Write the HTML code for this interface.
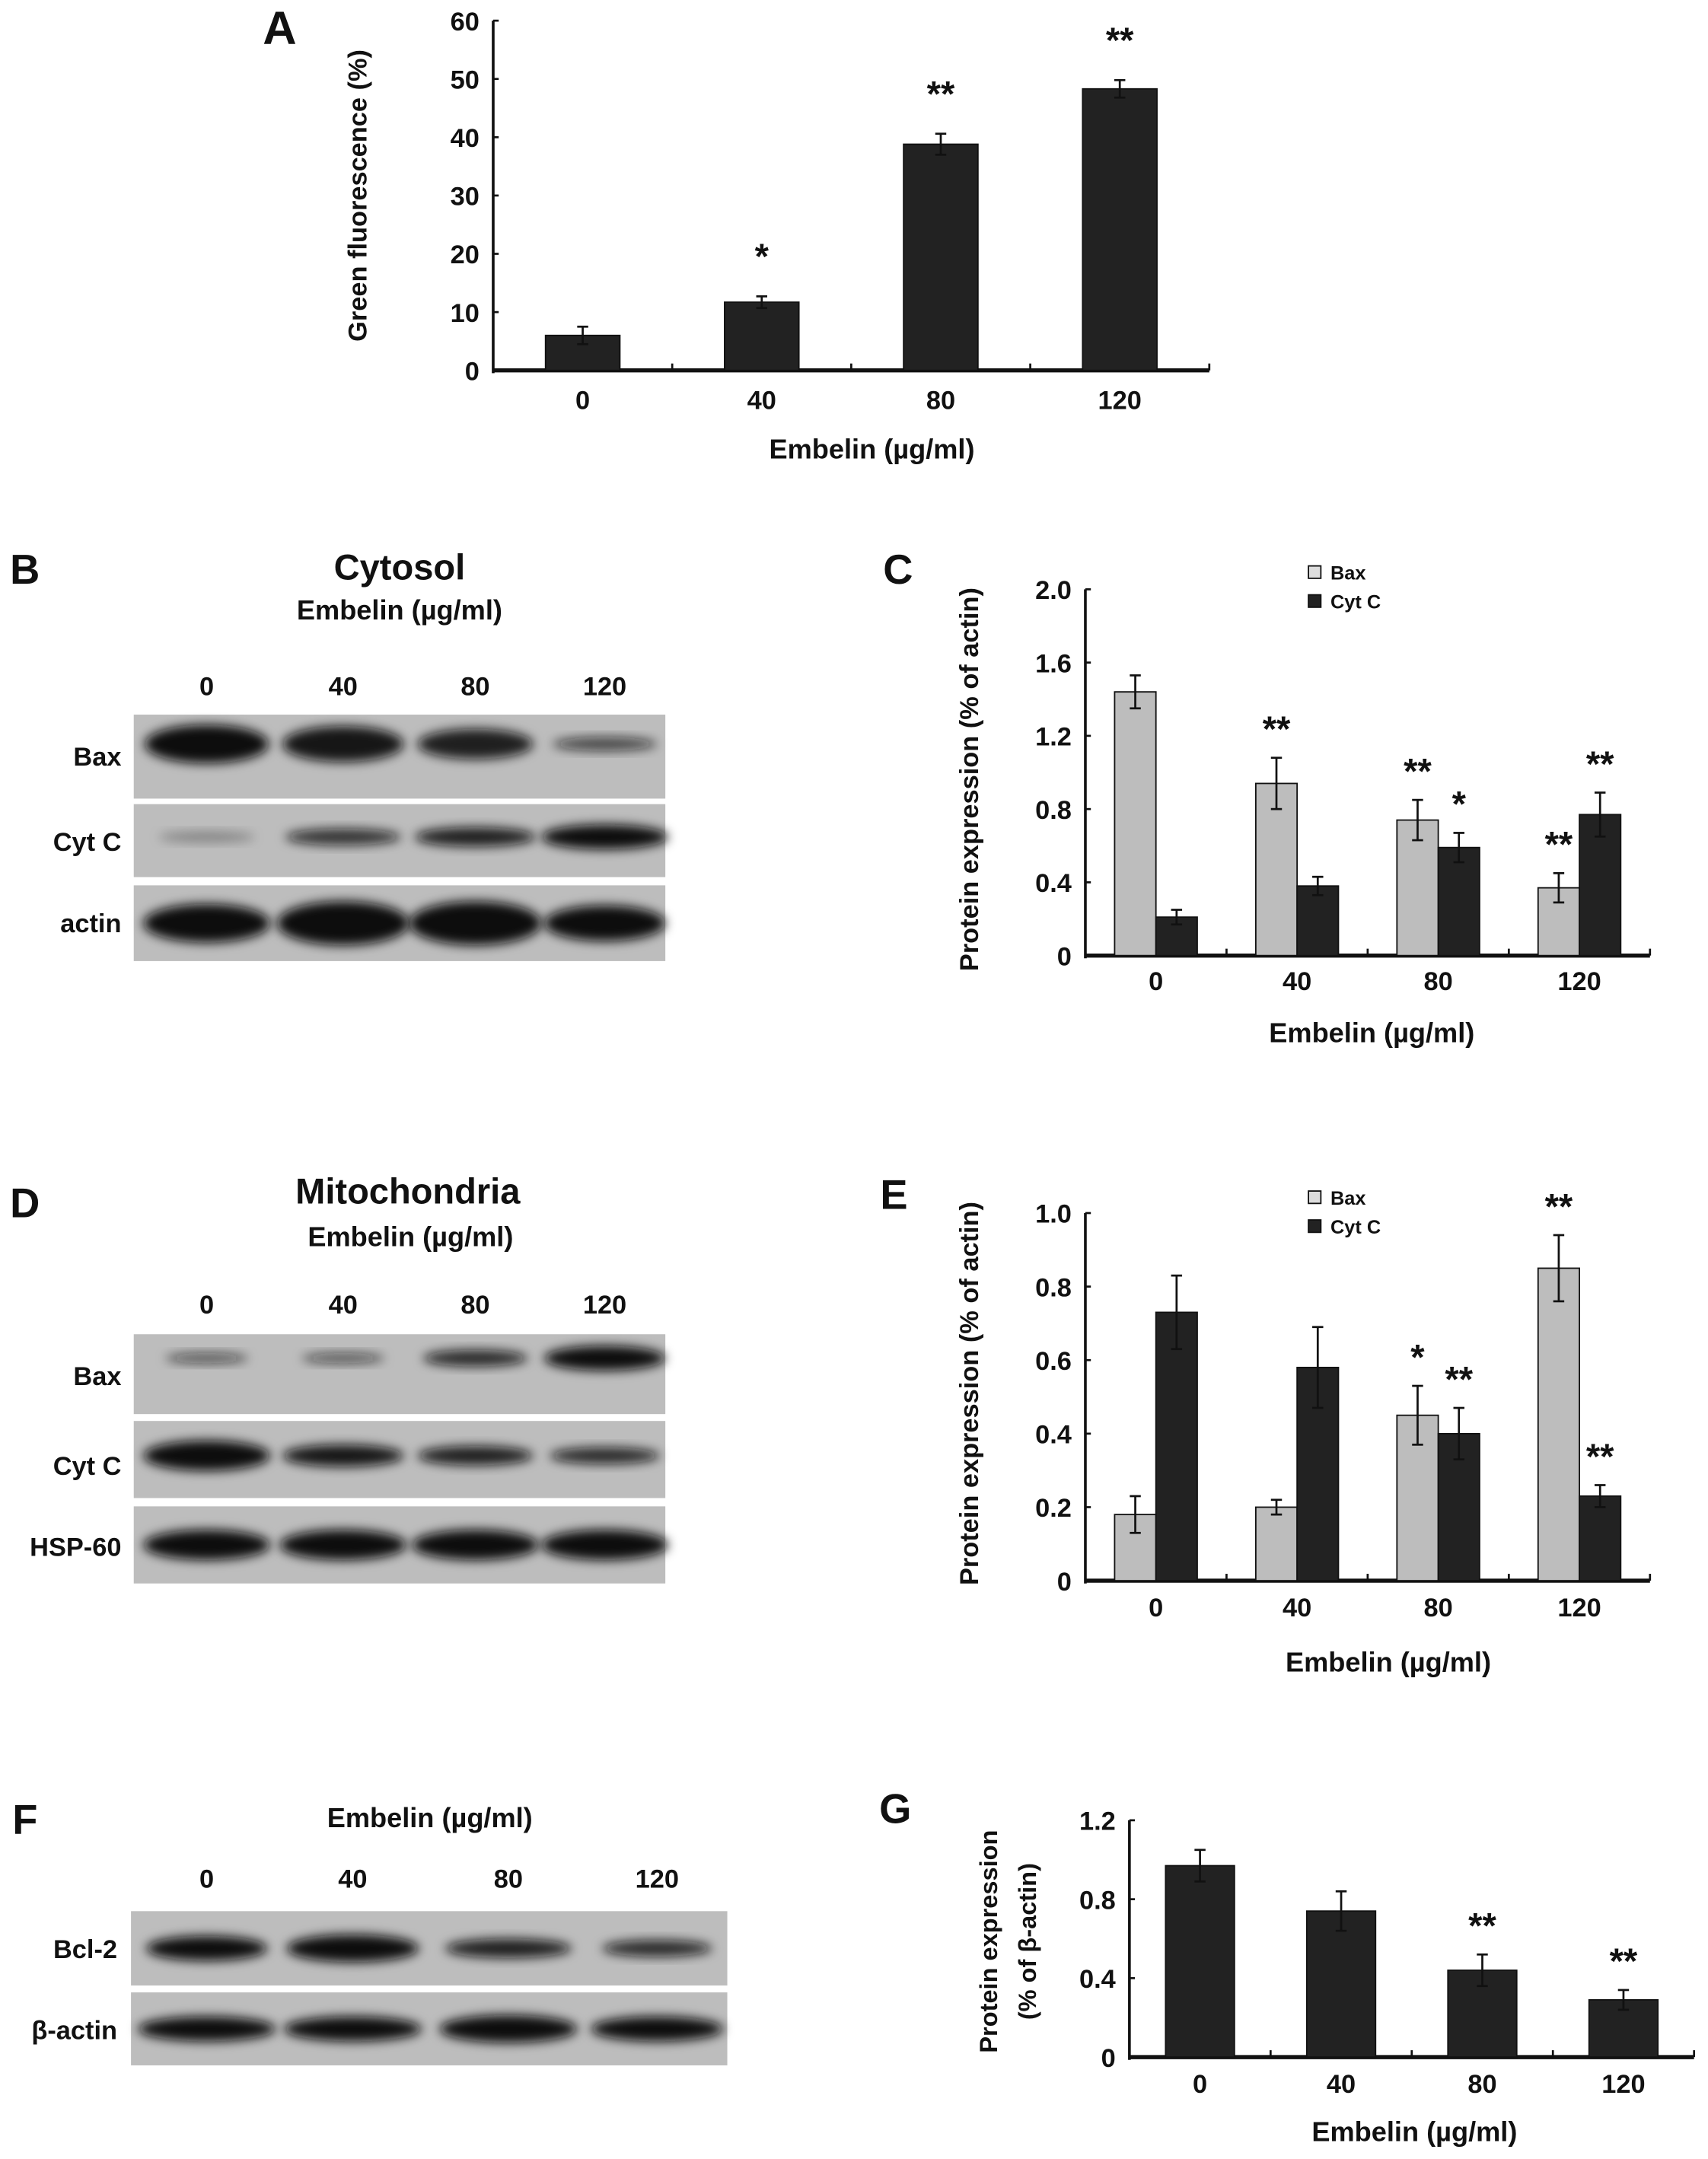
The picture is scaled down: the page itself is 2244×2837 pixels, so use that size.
<!DOCTYPE html>
<html><head><meta charset="utf-8"><style>
html,body{margin:0;padding:0;background:#fff}
svg{display:block}
text{font-family:"Liberation Sans",sans-serif;font-weight:bold;fill:#111}
</style></head><body>
<svg id="fig" width="2244" height="2837" viewBox="0 0 1240 1568" xmlns="http://www.w3.org/2000/svg">
<defs>
<filter id="blur" x="-20%" y="-50%" width="140%" height="200%"><feGaussianBlur stdDeviation="4"/></filter>
</defs>
<g id="root"></g>
</svg>
<script>
// ---- data ----
const doseLabels = ["0","40","80","120"];
const aValues = [6, 11.7, 38.8, 48.3];
const aErrors = [1.5, 1.0, 1.8, 1.5];
const aStars = ["", "*", "**", "**"];
const aTicks = [0,10,20,30,40,50,60];
const cBax = [1.44, 0.94, 0.74, 0.37];
const cBaxErr = [0.09, 0.14, 0.11, 0.08];
const cCyt = [0.21, 0.38, 0.59, 0.77];
const cCytErr = [0.04, 0.05, 0.08, 0.12];
const cBaxStars = ["", "**", "**", "**"];
const cCytStars = ["", "", "*", "**"];
const cTicks = ["0","0.4","0.8","1.2","1.6","2.0"];
const eBax = [0.18, 0.20, 0.45, 0.85];
const eBaxErr = [0.05, 0.02, 0.08, 0.09];
const eCyt = [0.73, 0.58, 0.40, 0.23];
const eCytErr = [0.10, 0.11, 0.07, 0.03];
const eBaxStars = ["", "", "*", "**"];
const eCytStars = ["", "", "**", "**"];
const eTicks = ["0","0.2","0.4","0.6","0.8","1.0"];
const gValues = [0.97, 0.74, 0.44, 0.29];
const gErrors = [0.08, 0.10, 0.08, 0.05];
const gStars = ["", "", "**", "**"];
const gTicks = ["0","0.4","0.8","1.2"];

const NS = "http://www.w3.org/2000/svg";
const root = document.getElementById('root');
function mk(tag, attrs, parent, txt){
  const e = document.createElementNS(NS, tag);
  for (const k in attrs) e.setAttribute(k, attrs[k]);
  if (txt !== undefined) e.textContent = txt;
  (parent || root).appendChild(e);
  return e;
}
function txt(x,y,s,size,anchor,parent,rot){
  const a = {x:x,y:y,'font-size':size,'text-anchor':anchor||'middle'};
  if (rot) a.transform = 'rotate(-90 '+x+' '+y+')';
  return mk('text', a, parent, s);
}

function chart(opt){
  const g = mk('g', {});
  
  
  const x0 = opt.x0, x1 = opt.x1, y0 = opt.y0, yTop = opt.yTop, max = opt.max;
  const ys = v => y0 - (v / max) * (y0 - yTop);
  const n = doseLabels.length;
  const step = (x1 - x0) / n;
  const cx = i => x0 + step * (i + 0.5);
  const ya = mk('line', {x1:x0,y1:yTop,x2:x0,y2:y0+2,stroke:'#111','stroke-width':2}, g);
  
  
  opt.ticks.forEach(t => {
    const v = parseFloat(t);
    const y = ys(v);
    mk('line',{x1:x0,y1:y,x2:x0+4,y2:y,stroke:'#111','stroke-width':1.5},g);
    const tl = txt(x0-10, y+7, t, opt.tickSize||19, 'end', g);
    
    
  });
  const xa = mk('line', {x1:x0,y1:y0,x2:x1,y2:y0,stroke:'#111','stroke-width':3}, g);
  
  
  for (let i=1;i<=n;i++){ mk('line',{x1:x0+step*i,y1:y0,x2:x0+step*i,y2:y0-5,stroke:'#111','stroke-width':1.5},g); }
  doseLabels.forEach((l,i) => {
    const t = txt(cx(i), opt.xlabY, l, 19, 'middle', g);
    
    
  });
  opt.series.forEach(s => {
    s.values.forEach((v,i) => {
      const bx = cx(i) + s.offset - s.width/2;
      const r = mk('rect',{x:bx,y:ys(v),width:s.width,height:y0-ys(v),fill:s.fill,stroke:'#111','stroke-width':1},g);
      
      
      const e = s.errors[i];
      const ex = cx(i)+s.offset;
      mk('line',{x1:ex,y1:ys(v+e),x2:ex,y2:ys(v-e),stroke:'#111','stroke-width':1.5},g);
      mk('line',{x1:ex-4,y1:ys(v+e),x2:ex+4,y2:ys(v+e),stroke:'#111','stroke-width':1.5},g);
      mk('line',{x1:ex-4,y1:ys(v-e),x2:ex+4,y2:ys(v-e),stroke:'#111','stroke-width':1.5},g);
      if (s.stars[i]) {
        const st = txt(ex, ys(v+e)-12+(s.starDy||0), s.stars[i], 26, 'middle', g);
        st.setAttribute('font-weight','normal');
        
        
      }
    });
  });
  return g;
}

// ---- Panel A ----
txt(203, 32, "A", 34, 'middle');
chart({name:'panel-a-chart', x0:358, x1:878, y0:269, yTop:15, max:60, ticks:aTicks.map(String), xlabY:297,
  series:[{key:'fluor', values:aValues, errors:aErrors, stars:aStars, offset:0, width:54, fill:'#222', starDy:-8}]});
txt(266, 142, "Green fluorescence (%)", 19, 'middle', null, true);
txt(633, 333, "Embelin (µg/ml)", 20, 'middle');

function blot(name, x, y, w, h, lanes, bands){
  const g = mk('g',{});
  
  
  mk('rect',{x:x,y:y,width:w,height:h,fill:'#bdbdbd'},g);
  bands.forEach((b,i) => {
    if (b[0] <= 0) return;
    mk('ellipse',{cx:lanes[i],cy:y+h*b[2],rx:b[1],ry:b[0],fill:'#111','fill-opacity':Math.min(1,b[3]||1),filter:'url(#blur)'},g);
  });
}

// ---- Panel B ----
txt(18, 424, "B", 30, 'middle');
txt(290, 421, "Cytosol", 26, 'middle');
txt(290, 450, "Embelin (µg/ml)", 20, 'middle');
const bLanes = [150,249,345,439];
doseLabels.forEach((l,i)=>txt(bLanes[i],505,l,19,'middle'));
blot('blot-bax-cytosol',97,519,386,61,bLanes,[[14,45,0.35,1],[13,44,0.35,0.95],[11,42,0.35,0.9],[5,38,0.35,0.7]]);
blot('blot-cytc-cytosol',97,584,386,53,bLanes,[[4,35,0.45,0.3],[6,42,0.45,0.8],[7,44,0.45,0.9],[9,46,0.45,1]]);
blot('blot-actin-cytosol',97,643,386,55,bLanes,[[14,46,0.5,1],[16,48,0.5,1],[16,48,0.5,1],[13,44,0.5,1]]);
txt(88,556,"Bax",19,'end'); txt(88,618,"Cyt C",19,'end'); txt(88,677,"actin",19,'end');

// ---- Panel C ----
txt(652, 424, "C", 30, 'middle');
chart({name:'panel-c-chart', x0:788, x1:1198, y0:694, yTop:428, max:2.0, ticks:cTicks, xlabY:719,
  series:[{key:'bax', values:cBax, errors:cBaxErr, stars:cBaxStars, offset:-15, width:30, fill:'#bdbdbd'},
          {key:'cytc', values:cCyt, errors:cCytErr, stars:cCytStars, offset:15, width:30, fill:'#222'}]});
txt(710, 566, "Protein expression (% of actin)", 19, 'middle', null, true);
txt(996, 757, "Embelin (µg/ml)", 20, 'middle');
function legend(y){
  const g = mk('g',{});
  
  
  mk('rect',{x:950,y:y-10,width:9,height:9,fill:'#ddd',stroke:'#111','stroke-width':1},g);
  txt(966,y,"Bax",14,'start',g);
  mk('rect',{x:950,y:y+11,width:9,height:9,fill:'#222',stroke:'#111','stroke-width':1},g);
  txt(966,y+21,"Cyt C",14,'start',g);
}
legend(421);

// ---- Panel D ----
txt(18, 884, "D", 30, 'middle');
txt(296, 874, "Mitochondria", 26, 'middle');
txt(298, 905, "Embelin (µg/ml)", 20, 'middle');
doseLabels.forEach((l,i)=>txt(bLanes[i],954,l,19,'middle'));
blot('blot-bax-mito',97,969,386,58,bLanes,[[4,30,0.3,0.6],[4,30,0.3,0.6],[6,38,0.3,0.85],[9,44,0.3,1]]);
blot('blot-cytc-mito',97,1032,386,56,bLanes,[[11,46,0.45,1],[8,44,0.45,0.95],[7,42,0.45,0.9],[6,40,0.45,0.85]]);
blot('blot-hsp60-mito',97,1094,386,56,bLanes,[[11,46,0.5,1],[11,46,0.5,1],[11,46,0.5,1],[11,46,0.5,1]]);
txt(88,1006,"Bax",19,'end'); txt(88,1071,"Cyt C",19,'end'); txt(88,1130,"HSP-60",19,'end');

// ---- Panel E ----
txt(649, 878, "E", 30, 'middle');
chart({name:'panel-e-chart', x0:788, x1:1198, y0:1148, yTop:881, max:1.0, ticks:eTicks, xlabY:1174,
  series:[{key:'bax', values:eBax, errors:eBaxErr, stars:eBaxStars, offset:-15, width:30, fill:'#bdbdbd'},
          {key:'cytc', values:eCyt, errors:eCytErr, stars:eCytStars, offset:15, width:30, fill:'#222'}]});
txt(710, 1012, "Protein expression (% of actin)", 19, 'middle', null, true);
txt(1008, 1214, "Embelin (µg/ml)", 20, 'middle');
legend(875);

// ---- Panel F ----
txt(18, 1332, "F", 30, 'middle');
txt(312, 1327, "Embelin (µg/ml)", 20, 'middle');
const fLanes = [150,256,369,477];
doseLabels.forEach((l,i)=>txt(fLanes[i],1371,l,19,'middle'));
blot('blot-bcl2',95,1388,433,54,fLanes,[[9,44,0.5,1],[10,48,0.5,1],[7,46,0.5,0.9],[6,40,0.5,0.85]]);
blot('blot-beta-actin',95,1447,433,53,fLanes,[[9,50,0.5,1],[9,50,0.5,1],[10,50,0.5,1],[9,48,0.5,1]]);
txt(85,1422,"Bcl-2",19,'end'); txt(85,1481,"β-actin",19,'end');

// ---- Panel G ----
txt(650, 1324, "G", 30, 'middle');
chart({name:'panel-g-chart', x0:820, x1:1230, y0:1494, yTop:1322, max:1.2, ticks:gTicks, xlabY:1520,
  series:[{key:'bcl2', values:gValues, errors:gErrors, stars:gStars, offset:0, width:50, fill:'#222'}]});
txt(724, 1410, "Protein expression", 18, 'middle', null, true);
txt(752, 1410, "(% of β-actin)", 18, 'middle', null, true);
txt(1027, 1555, "Embelin (µg/ml)", 20, 'middle');
</script>
</body></html>
